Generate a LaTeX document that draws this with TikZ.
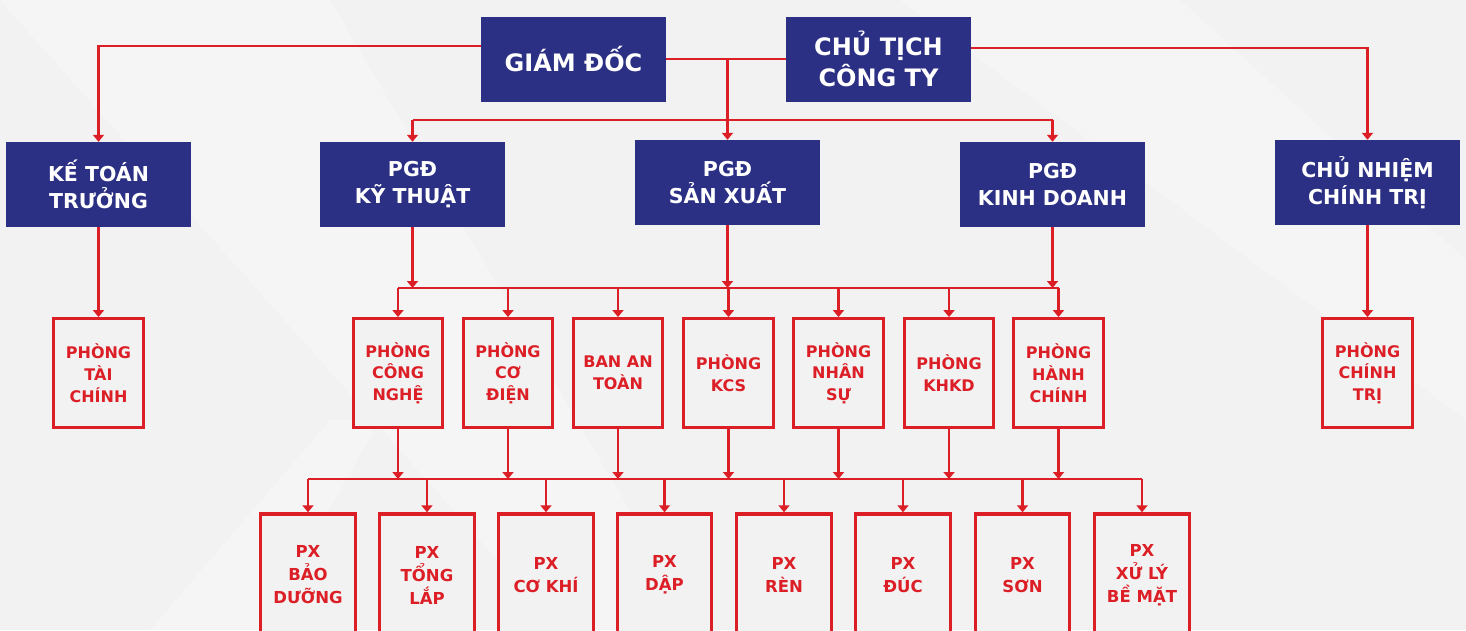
\documentclass[tikz,border=0pt]{standalone}
\usepackage{fontspec}
\setmainfont{DejaVu Sans}
\usetikzlibrary{arrows.meta}
\definecolor{navy}{HTML}{2B3084}
\definecolor{bred}{HTML}{DC1F26}
\definecolor{bg}{HTML}{F2F2F2}
\begin{document}
\begin{tikzpicture}[x=1pt,y=-1pt,
  navybox/.style={fill=navy,text=white,font=\bfseries\fontsize{20.5}{27}\selectfont,minimum width=185pt,minimum height=85pt,align=center,inner sep=0pt},
  topbox/.style={navybox,font=\bfseries\fontsize{24}{31}\selectfont},
  redbox/.style={draw=bred,line width=3.4pt,fill=bg,text=bred,font=\bfseries\fontsize{16}{21.7}\selectfont,minimum width=89.5pt,minimum height=108.5pt,align=center,inner sep=0pt},
  pxbox/.style={redbox,minimum width=94.5pt,minimum height=122pt,font=\bfseries\fontsize{16.5}{23}\selectfont},
  link/.style={draw=bred,line width=2.6pt},
  arr/.style={link,-{Triangle[length=7pt,width=11pt]}},
  streak/.style={fill=white,opacity=0.3,draw=none}
]
\clip (0,0) rectangle (1466,630);
\fill[bg] (0,0) rectangle (1466,630);
\fill[streak] (0,0) -- (330,0) -- (700,630) -- (560,630) -- cycle;
\fill[streak] (900,0) -- (1180,0) -- (1466,260) -- (1466,420) -- cycle;
\fill[streak] (150,630) -- (330,420) -- (380,420) -- (260,630) -- cycle;

% level 1
\node[topbox] (gd) at (573.5,59) {GIÁM ĐỐC};
\node[topbox] (ct) at (878.5,59) {CHỦ TỊCH\\CÔNG TY};

% level 2
\node[navybox] (kt)  at (98.5,184.5)  {KẾ TOÁN\\TRƯỞNG};
\node[navybox] (pkt) at (412.5,184.5) {PGĐ\\KỸ THUẬT};
\node[navybox] (psx) at (727.5,182.5) {PGĐ\\SẢN XUẤT};
\node[navybox] (pkd) at (1052.5,184.5) {PGĐ\\KINH DOANH};
\node[navybox] (cn)  at (1367.5,182.5) {CHỦ NHIỆM\\CHÍNH TRỊ};

% level 3
\node[redbox] (tc)   at (98.5,373)  {PHÒNG\\TÀI\\CHÍNH};
\node[redbox] (cng)  at (398,373)   {PHÒNG\\CÔNG\\NGHỆ};
\node[redbox] (cd)   at (508,373)   {PHÒNG\\CƠ\\ĐIỆN};
\node[redbox] (bat)  at (618,373)   {BAN AN\\TOÀN};
\node[redbox] (kcs)  at (728.5,373) {PHÒNG\\KCS};
\node[redbox] (ns)   at (838.5,373) {PHÒNG\\NHÂN\\SỰ};
\node[redbox] (khkd) at (949,373)   {PHÒNG\\KHKD};
\node[redbox] (hc)   at (1058.5,373) {PHÒNG\\HÀNH\\CHÍNH};
\node[redbox] (ctr)  at (1367.5,373)  {PHÒNG\\CHÍNH\\TRỊ};

% level 4
\node[pxbox] (bd)  at (308,575)    {PX\\BẢO\\DƯỠNG};
\node[pxbox] (tl)  at (427,575)    {PX\\TỔNG\\LẮP};
\node[pxbox] (ck)  at (546,575)    {PX\\CƠ KHÍ};
\node[pxbox] (dap) at (664.5,575)  {PX\\DẬP};
\node[pxbox] (ren) at (784,575)    {PX\\RÈN};
\node[pxbox] (duc) at (903,575)    {PX\\ĐÚC};
\node[pxbox] (son) at (1022.5,575) {PX\\SƠN};
\node[pxbox] (xl)  at (1142,575)   {PX\\XỬ LÝ\\BỀ MẶT};

% connectors level 1
\coordinate (j1) at (727.5,59);
\draw[link] (gd.east) -- (ct.west);
\draw[arr] (j1) -- (psx.north);
\coordinate (b1) at (0,120);
\draw[link] (pkt.north |- b1) -- (pkd.north |- b1);
\draw[arr] (pkt.north |- b1) -- (pkt.north);
\draw[arr] (pkd.north |- b1) -- (pkd.north);
\draw[arr] ([yshift=13pt]gd.west) -| (kt.north);
\draw[arr] ([yshift=11pt]ct.east) -| (cn.north);

% connectors level 2
\coordinate (b2) at (0,288);
\draw[arr] (kt.south) -- (tc.north);
\draw[arr] (cn.south) -- (ctr.north);
\draw[link] (cng.north |- b2) -- (hc.north |- b2);
\foreach \s in {pkt,psx,pkd} \draw[arr] (\s.south) -- (\s.south |- b2);
\foreach \t in {cng,cd,bat,kcs,ns,khkd,hc} \draw[arr] (\t.north |- b2) -- (\t.north);

% connectors level 3
\coordinate (b3) at (0,479);
\draw[link] (bd.north |- b3) -- (xl.north |- b3);
\foreach \s in {cng,cd,bat,kcs,ns,khkd,hc} \draw[arr] (\s.south) -- (\s.south |- b3);
\foreach \t in {bd,tl,ck,dap,ren,duc,son,xl} \draw[arr] (\t.north |- b3) -- (\t.north);
\end{tikzpicture}
\end{document}
